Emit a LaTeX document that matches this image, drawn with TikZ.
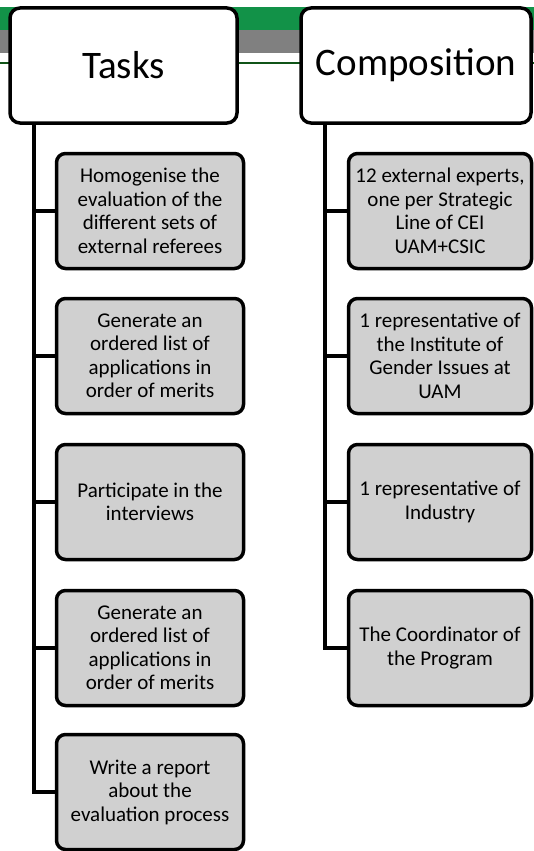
\documentclass[tikz,border=0pt]{standalone}
\usepackage{fontspec}
\setmainfont{Carlito}
\usetikzlibrary{positioning}
\definecolor{bandgreen}{RGB}{18,146,72}
\definecolor{bandgray}{RGB}{128,128,128}
\definecolor{rulegreen}{RGB}{16,84,24}
\definecolor{boxgray}{RGB}{208,208,208}
\tikzset{
  head/.style={draw,fill=white,line width=3.5pt,rounded corners=10pt,
    minimum width=227pt,minimum height=115pt,inner sep=0pt,
    font=\fontsize{39}{44}\selectfont},
  item/.style={draw,fill=boxgray,line width=3.5pt,rounded corners=9pt,
    minimum width=187pt,minimum height=115pt,inner sep=0pt,align=center,
    font=\fontsize{21}{23.5}\selectfont},
  conn/.style={line width=4.5pt}
}
\begin{document}
\begin{tikzpicture}[x=1pt,y=-1pt]
	\useasboundingbox (0,0) rectangle (534,851);
	% title bands
	\fill[bandgreen] (0,7) rectangle (534,30);
	\fill[bandgray] (0,30) rectangle (534,53);
	\draw[rulegreen,line width=2pt] (0,63)--(534,63);
	% columns
	\node[head] (tasks) at (123.5,65.5) {Tasks};
	\node[head,minimum width=230pt] (comp) at (416,65.5) {Composition};
	\coordinate (tl) at (34,125);
	\coordinate (cl) at (325,125);
	% tasks
	\node[item] (t1) at (150,211) {Homogenise the\\evaluation of the\\different sets of\\external referees};
	\node[item] (t2) at (150,356) {Generate an\\ordered list of\\applications in\\order of merits};
	\node[item] (t3) at (150,502) {Participate in the\\interviews};
	\node[item] (t4) at (150,648) {Generate an\\ordered list of\\applications in\\order of merits};
	\node[item] (t5) at (150,792) {Write a report\\about the\\evaluation process};
	% composition
	\node[item,minimum width=183pt] (c1) at (440,211) {12 external experts,\\one per Strategic\\Line of CEI\\UAM+CSIC};
	\node[item,minimum width=183pt] (c2) at (440,356) {1 representative of\\the Institute of\\Gender Issues at\\UAM};
	\node[item,minimum width=183pt] (c3) at (440,502) {1 representative of\\Industry};
	\node[item,minimum width=183pt] (c4) at (440,648) {The Coordinator of\\the Program};
	\foreach \n in {t1,t2,t3,t4,t5}
		\draw[conn] (tl) |- (\n.west);
	\foreach \n in {c1,c2,c3,c4}
		\draw[conn] (cl) |- (\n.west);
\end{tikzpicture}
\end{document}
